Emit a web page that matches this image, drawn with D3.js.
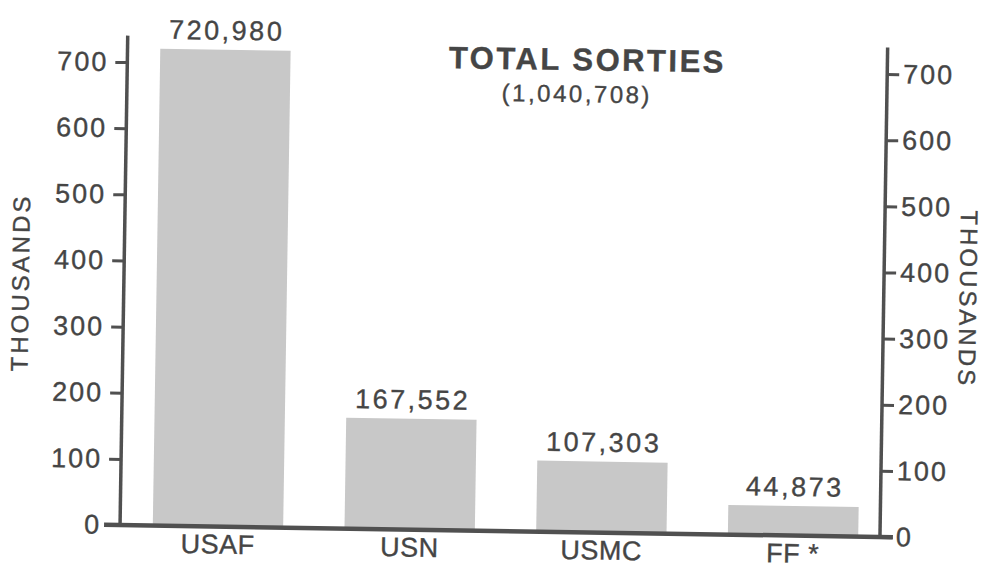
<!DOCTYPE html>
<html>
<head>
<meta charset="utf-8">
<script src="https://cdn.jsdelivr.net/npm/d3@7"></script>
<style>
  html, body { margin: 0; padding: 0; background: #fff; }
  svg { display: block; }
  text { font-family: "Liberation Sans", Arial, Helvetica, sans-serif; fill: #454545; stroke: #454545; stroke-width: 0.35px; }
</style>
</head>
<body>
<svg id="chart" width="992" height="570"></svg>
<script>
const categories = ["USAF", "USN", "USMC", "FF *"];
const sorties = [720980, 167552, 107303, 44873];
const valueLabels = ["720,980", "167,552", "107,303", "44,873"];
const yTicks = [0, 100, 200, 300, 400, 500, 600, 700];
const title = "TOTAL SORTIES";
const subtitle = "(1,040,708)";
const axisTitle = "THOUSANDS";

const svg = d3.select("#chart");
const g = svg.append("g").attr("transform", "rotate(0.9, 500, 531)");

const xLeft = 120, xRight = 880;
const y = d3.scaleLinear().domain([0, 700]).range([531, 68]);
const x = d3.scaleBand().domain(categories).range([147, 864])
  .paddingInner(0.32).paddingOuter(0.03);

const ink = "#505050";

// bars
g.selectAll("rect.bar").data(categories).join("rect")
  .attr("class", "bar")
  .attr("x", d => x(d))
  .attr("width", x.bandwidth())
  .attr("y", (d, i) => y(sorties[i] / 1000))
  .attr("height", (d, i) => y(0) - y(sorties[i] / 1000))
  .attr("fill", "#c8c8c8");

// value labels
g.selectAll("text.val").data(categories).join("text")
  .attr("class", "val")
  .attr("x", d => x(d) + x.bandwidth() / 2 + 1)
  .attr("y", (d, i) => y(sorties[i] / 1000) - 10)
  .attr("text-anchor", "middle")
  .attr("font-size", 27)
  .attr("letter-spacing", 2.5)
  .text((d, i) => valueLabels[i]);

// left axis
const leftAxis = d3.axisLeft(y).tickValues(yTicks).tickSize(12).tickPadding(7).tickSizeOuter(0);
const la = g.append("g").attr("transform", `translate(${xLeft},0)`).call(leftAxis);
// right axis
const rightAxis = d3.axisRight(y).tickValues(yTicks).tickSize(12).tickPadding(4).tickSizeOuter(0);
const ra = g.append("g").attr("transform", `translate(${xRight},0)`).call(rightAxis);

[la, ra].forEach(a => {
  a.select(".domain").remove();
  a.selectAll(".tick line").attr("stroke", ink).attr("stroke-width", 3);
  a.selectAll(".tick text")
    .attr("font-size", 27)
    .attr("letter-spacing", 2)
    .attr("fill", "#454545")
    .style("font-family", "'Liberation Sans', Arial, sans-serif");
});

// axis lines
g.append("line").attr("x1", xLeft).attr("x2", xLeft).attr("y1", y(0)).attr("y2", y(740))
  .attr("stroke", ink).attr("stroke-width", 3.5);
g.append("line").attr("x1", xRight).attr("x2", xRight).attr("y1", y(0)).attr("y2", y(740))
  .attr("stroke", ink).attr("stroke-width", 3.5);
// baseline
g.append("line").attr("x1", 104).attr("x2", 893).attr("y1", y(0)).attr("y2", y(0))
  .attr("stroke", ink).attr("stroke-width", 4.5);

// category labels
g.selectAll("text.cat").data(categories).join("text")
  .attr("class", "cat")
  .attr("x", d => x(d) + x.bandwidth() / 2)
  .attr("y", y(0) + 27)
  .attr("text-anchor", "middle")
  .attr("font-size", 27)
  .attr("letter-spacing", 0.5)
  .text(d => d);

// title
g.append("text").attr("x", 580).attr("y", 69).attr("text-anchor", "middle")
  .attr("font-size", 31).attr("font-weight", "bold").attr("letter-spacing", 2.5)
  .text(title);
g.append("text").attr("x", 570).attr("y", 101).attr("text-anchor", "middle")
  .attr("font-size", 24).attr("letter-spacing", 2.5)
  .text(subtitle);

// axis titles
g.append("text").attr("transform", "translate(25,290) rotate(-90)")
  .attr("text-anchor", "middle").attr("font-size", 24).attr("letter-spacing", 3)
  .text(axisTitle);
g.append("text").attr("transform", "translate(956,292) rotate(90)")
  .attr("text-anchor", "middle").attr("font-size", 24).attr("letter-spacing", 3)
  .text(axisTitle);
</script>
</body>
</html>
